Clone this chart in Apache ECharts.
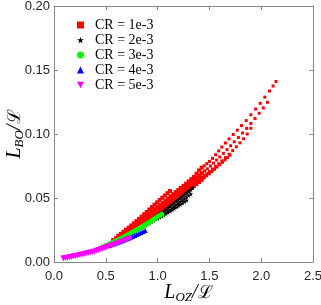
<!DOCTYPE html>
<html><head><meta charset="utf-8">
<script src="https://cdn.jsdelivr.net/npm/echarts@6/dist/echarts.min.js"></script>
<style>html,body{margin:0;padding:0;background:#fff}#c{width:321px;height:305px}</style>
</head><body><div id="c"></div>
<script>
const seriesNames = ['CR = 1e-3','CR = 2e-3','CR = 3e-3','CR = 4e-3','CR = 5e-3'];
const xTicks = [0, 0.5, 1.0, 1.5, 2.0, 2.5];
const yTicks = [0, 0.05, 0.10, 0.15, 0.20];

// CR = 1e-3 (red) trajectories
const redA = [[0.57,0.0170],[0.60,0.0186],[0.625,0.0200],[0.65,0.0214],[0.675,0.0228],[0.70,0.0242],[0.725,0.0257],[0.75,0.0272],[0.775,0.0287],[0.80,0.0302],[0.825,0.0317],[0.85,0.0333],[0.875,0.0349],[0.90,0.0365],[0.925,0.0381],[0.95,0.0397],[0.975,0.0413],[1.00,0.0430],[1.025,0.0446],[1.05,0.0462],[1.075,0.0479],[1.10,0.0496],[1.125,0.0513],[1.15,0.0530],[1.175,0.0547],[1.20,0.0563],[1.225,0.0579],[1.25,0.0595],[1.275,0.0612],[1.30,0.0629],[1.325,0.0647],[1.35,0.0665],[1.375,0.0690],[1.40,0.0715],[1.425,0.0737],[1.45,0.0752],[1.475,0.0768],[1.50,0.0786],[1.53,0.0810],[1.56,0.0838],[1.59,0.0868],[1.62,0.0898],[1.655,0.0930],[1.69,0.0962],[1.73,0.0996],[1.77,0.1030],[1.81,0.1066],[1.855,0.1105],[1.90,0.1150],[1.945,0.1195],[1.99,0.1240],[2.035,0.1288],[2.08,0.1336],[2.115,0.1375],[2.143,0.1410]];
const redB = [[0.58,0.0168],[0.605,0.0181],[0.63,0.0194],[0.655,0.0207],[0.68,0.0221],[0.705,0.0235],[0.73,0.0249],[0.755,0.0263],[0.78,0.0278],[0.805,0.0293],[0.83,0.0308],[0.855,0.0323],[0.88,0.0338],[0.905,0.0353],[0.93,0.0368],[0.955,0.0384],[0.98,0.0400],[1.005,0.0416],[1.03,0.0432],[1.055,0.0448],[1.08,0.0464],[1.105,0.0480],[1.13,0.0496],[1.155,0.0512],[1.18,0.0528],[1.205,0.0544],[1.23,0.0560],[1.255,0.0576],[1.28,0.0592],[1.305,0.0609],[1.33,0.0626],[1.355,0.0643],[1.38,0.0660],[1.405,0.0677],[1.43,0.0694],[1.455,0.0711],[1.48,0.0728],[1.51,0.0750],[1.54,0.0772],[1.57,0.0796],[1.60,0.0820],[1.635,0.0849],[1.67,0.0878],[1.705,0.0908],[1.74,0.0939],[1.78,0.0973],[1.82,0.1008],[1.86,0.1044],[1.90,0.1082],[1.94,0.1121],[1.98,0.1162],[2.02,0.1204],[2.06,0.1248]];
const redC = [[0.60,0.0172],[0.625,0.0184],[0.65,0.0197],[0.675,0.0210],[0.70,0.0223],[0.725,0.0236],[0.75,0.0250],[0.775,0.0264],[0.80,0.0278],[0.825,0.0292],[0.85,0.0306],[0.875,0.0320],[0.90,0.0334],[0.925,0.0348],[0.95,0.0363],[0.975,0.0378],[1.00,0.0393],[1.025,0.0408],[1.05,0.0423],[1.075,0.0438],[1.10,0.0453],[1.125,0.0468],[1.15,0.0483],[1.175,0.0498],[1.20,0.0514],[1.225,0.0530],[1.25,0.0546],[1.275,0.0562],[1.30,0.0578],[1.325,0.0594],[1.35,0.0610],[1.375,0.0626],[1.40,0.0642],[1.425,0.0658],[1.45,0.0674],[1.475,0.0690],[1.50,0.0706],[1.53,0.0726],[1.56,0.0747],[1.59,0.0768],[1.62,0.0790],[1.655,0.0815],[1.69,0.0842],[1.725,0.0870],[1.76,0.0900],[1.795,0.0931],[1.83,0.0963],[1.865,0.1000],[1.90,0.1045]];
const redD = [[0.65,0.0192],[0.675,0.0204],[0.70,0.0216],[0.725,0.0228],[0.75,0.0241],[0.775,0.0254],[0.80,0.0267],[0.825,0.0280],[0.85,0.0293],[0.875,0.0307],[0.90,0.0321],[0.925,0.0335],[0.95,0.0349],[0.975,0.0363],[1.00,0.0378],[1.025,0.0392],[1.05,0.0407],[1.075,0.0422],[1.10,0.0437],[1.125,0.0452],[1.15,0.0467],[1.175,0.0482],[1.20,0.0497],[1.225,0.0513],[1.25,0.0529],[1.275,0.0545],[1.30,0.0561],[1.325,0.0577],[1.35,0.0593],[1.375,0.0609],[1.40,0.0625],[1.425,0.0641],[1.45,0.0657],[1.475,0.0673],[1.50,0.0690],[1.525,0.0707],[1.55,0.0724],[1.575,0.0742],[1.60,0.0760],[1.625,0.0778],[1.65,0.0797],[1.675,0.0816],[1.70,0.0836]];
const redF = [[0.62,0.0205],[0.645,0.0220],[0.67,0.0236],[0.695,0.0252],[0.72,0.0268],[0.745,0.0285],[0.77,0.0302],[0.795,0.0319],[0.82,0.0337],[0.845,0.0355],[0.87,0.0373],[0.895,0.0391],[0.92,0.0410],[0.945,0.0429],[0.97,0.0448],[0.995,0.0466],[1.02,0.0484],[1.045,0.0502],[1.07,0.0520],[1.095,0.0538],[1.12,0.0555]];

// CR = 2e-3 (black)
const blackK1 = [[0.46,0.0118],[0.48,0.0124],[0.50,0.0130],[0.52,0.0137],[0.54,0.0144],[0.56,0.0151],[0.58,0.0158],[0.60,0.0166],[0.62,0.0174],[0.64,0.0182],[0.66,0.0190],[0.68,0.0198],[0.70,0.0207],[0.72,0.0216],[0.74,0.0225],[0.76,0.0234],[0.78,0.0244],[0.80,0.0254],[0.82,0.0264],[0.84,0.0274],[0.86,0.0285],[0.88,0.0296],[0.90,0.0307],[0.92,0.0318],[0.94,0.0329],[0.96,0.0340],[0.98,0.0352],[1.00,0.0364],[1.02,0.0376],[1.04,0.0388],[1.06,0.0400],[1.08,0.0412],[1.10,0.0425],[1.12,0.0437],[1.14,0.0450],[1.16,0.0462],[1.18,0.0475],[1.20,0.0488],[1.22,0.0501],[1.24,0.0514],[1.26,0.0527],[1.28,0.0540],[1.30,0.0553],[1.32,0.0566],[1.34,0.0579]];
const blackK2 = [[0.70,0.0203],[0.72,0.0211],[0.74,0.0219],[0.76,0.0228],[0.78,0.0237],[0.80,0.0246],[0.82,0.0255],[0.84,0.0264],[0.86,0.0274],[0.88,0.0284],[0.90,0.0294],[0.92,0.0304],[0.94,0.0314],[0.96,0.0324],[0.98,0.0335],[1.00,0.0346],[1.02,0.0357],[1.04,0.0368],[1.06,0.0379],[1.08,0.0390],[1.10,0.0401],[1.12,0.0412],[1.14,0.0424],[1.16,0.0436],[1.18,0.0448],[1.20,0.0460],[1.22,0.0472],[1.24,0.0484],[1.26,0.0496],[1.28,0.0508],[1.30,0.0520],[1.32,0.0532]];
const blackK3 = [[1.00,0.0340],[1.02,0.0349],[1.04,0.0358],[1.06,0.0367],[1.08,0.0377],[1.10,0.0387],[1.12,0.0397],[1.14,0.0407],[1.16,0.0417],[1.18,0.0428],[1.20,0.0438],[1.22,0.0449],[1.24,0.0460],[1.26,0.0471],[1.28,0.0482]];

// CR = 3e-3 (green)
const green = [[0.50,0.0128],[0.52,0.0135],[0.54,0.0142],[0.56,0.0150],[0.58,0.0158],[0.60,0.0166],[0.62,0.0174],[0.64,0.0182],[0.66,0.0190],[0.68,0.0199],[0.70,0.0207],[0.72,0.0216],[0.74,0.0225],[0.76,0.0234],[0.78,0.0243],[0.80,0.0252],[0.82,0.0262],[0.84,0.0271],[0.86,0.0281],[0.88,0.0291],[0.90,0.0301],[0.92,0.0311],[0.94,0.0321],[0.96,0.0332],[0.98,0.0342],[1.00,0.0353],[1.02,0.0363],[1.04,0.0373]];

// CR = 4e-3 (blue)
const blue = [[0.54,0.0130],[0.56,0.0136],[0.58,0.0142],[0.60,0.0148],[0.62,0.0154],[0.64,0.0160],[0.66,0.0166],[0.68,0.0173],[0.70,0.0179],[0.72,0.0186],[0.74,0.0193],[0.76,0.0200],[0.78,0.0207],[0.80,0.0215],[0.82,0.0222],[0.84,0.0230],[0.86,0.0238],[0.88,0.0246]];

// CR = 5e-3 (magenta)
const magenta = [[0.09,0.0028],[0.11,0.0031],[0.13,0.0034],[0.15,0.0037],[0.17,0.0040],[0.19,0.0044],[0.21,0.0047],[0.23,0.0051],[0.25,0.0055],[0.27,0.0058],[0.29,0.0062],[0.31,0.0066],[0.33,0.0070],[0.35,0.0074],[0.37,0.0079],[0.39,0.0083],[0.41,0.0088],[0.43,0.0093],[0.45,0.0099],[0.47,0.0104],[0.49,0.0110],[0.51,0.0116],[0.53,0.0121],[0.55,0.0127],[0.57,0.0133],[0.59,0.0139],[0.61,0.0145],[0.63,0.0151],[0.65,0.0157],[0.67,0.0164],[0.69,0.0170],[0.71,0.0177],[0.73,0.0184]];

const STAR = 'path://M50,0 L61,35 L98,35 L68,57 L79,91 L50,70 L21,91 L32,57 L2,35 L39,35 Z';
const DOWN = 'path://M0,0 L10,0 L5,9 Z';
const axisGray = '#888888';
const labelColor = '#262626';

const chart = echarts.init(document.getElementById('c'), null, {renderer: 'canvas'});
const baseAxis = (pos, min, max, interval, show) => ({
  type: 'value', position: pos, min, max, interval,
  axisLine: {show: true, onZero: false, lineStyle: {color: axisGray, width: 1}},
  axisTick: {show: true, inside: true, length: 4, lineStyle: {color: axisGray}},
  splitLine: {show: false},
  axisLabel: {show: show}
});
const nameRich = {
  i: {fontFamily: 'Liberation Serif', fontStyle: 'italic', fontSize: 20, color: '#000'},
  s: {fontFamily: 'Liberation Serif', fontStyle: 'italic', fontSize: 13, color: '#000', padding: [9,0,0,0]},
  n: {fontFamily: 'Liberation Serif', fontStyle: 'italic', fontSize: 20, color: '#000'},
  c: {fontFamily: 'DejaVu Serif', fontSize: 18, color: '#000'}
};
const xMain = Object.assign(baseAxis('bottom', xTicks[0], xTicks[xTicks.length-1], 0.5, true), {
  axisLabel: {show: true, margin: 8, color: labelColor, fontSize: 13, fontFamily: 'Liberation Sans', formatter: v => v.toFixed(1)},
  name: '{i|L}{s|OZ}{n|/}{c|ℒ}', nameLocation: 'middle', nameGap: 20, nameMoveOverlap: false,
  nameTextStyle: {padding: [0, 0, 0, 10], rich: nameRich}
});
const yMain = Object.assign(baseAxis('left', yTicks[0], yTicks[yTicks.length-1], 0.05, true), {
  axisLabel: {show: true, margin: 4, color: labelColor, fontSize: 13, fontFamily: 'Liberation Sans', formatter: v => v.toFixed(2)},
  name: '{i|L}{s|BO}{n|/}{c|ℒ}', nameLocation: 'middle', nameGap: 28, nameMoveOverlap: false,
  nameTextStyle: {rich: nameRich}
});

const icons = ['rect', STAR, 'circle', 'triangle', DOWN];
const colors = ['#ff0000', '#000000', '#00ff00', '#0000ff', '#ff00ff'];
const sizes = [v => (v[0] < 1.45 ? 4 : 3), 5, 5, 5, 6];
const datasets = [
  [].concat(redA, redB, redC, redD, redF),
  [].concat(blackK1, blackK2, blackK3),
  green, blue, magenta
];

chart.setOption({
  animation: false,
  grid: {left: 54, right: 8, top: 6, bottom: 43, containLabel: false, outerBoundsMode: 'none'},
  legend: {
    orient: 'vertical', left: 72, top: 13,
    itemWidth: 7, itemHeight: 7, itemGap: 1,
    textStyle: {fontFamily: 'Liberation Serif', fontSize: 14, color: '#000', lineHeight: 14, padding: [0,0,0,6]},
    data: seriesNames.map((n, i) => ({name: n, icon: icons[i], itemStyle: {color: colors[i]}}))
  },
  xAxis: [xMain, baseAxis('top', 0, 2.5, 0.5, false)],
  yAxis: [yMain, baseAxis('right', 0, 0.2, 0.05, false)],
  series: seriesNames.map((n, i) => ({
    name: n, type: 'scatter', xAxisIndex: 0, yAxisIndex: 0,
    symbol: icons[i], symbolSize: sizes[i],
    itemStyle: {color: colors[i], opacity: 1},
    emphasis: {disabled: true},
    data: datasets[i]
  }))
});
</script></body></html>
